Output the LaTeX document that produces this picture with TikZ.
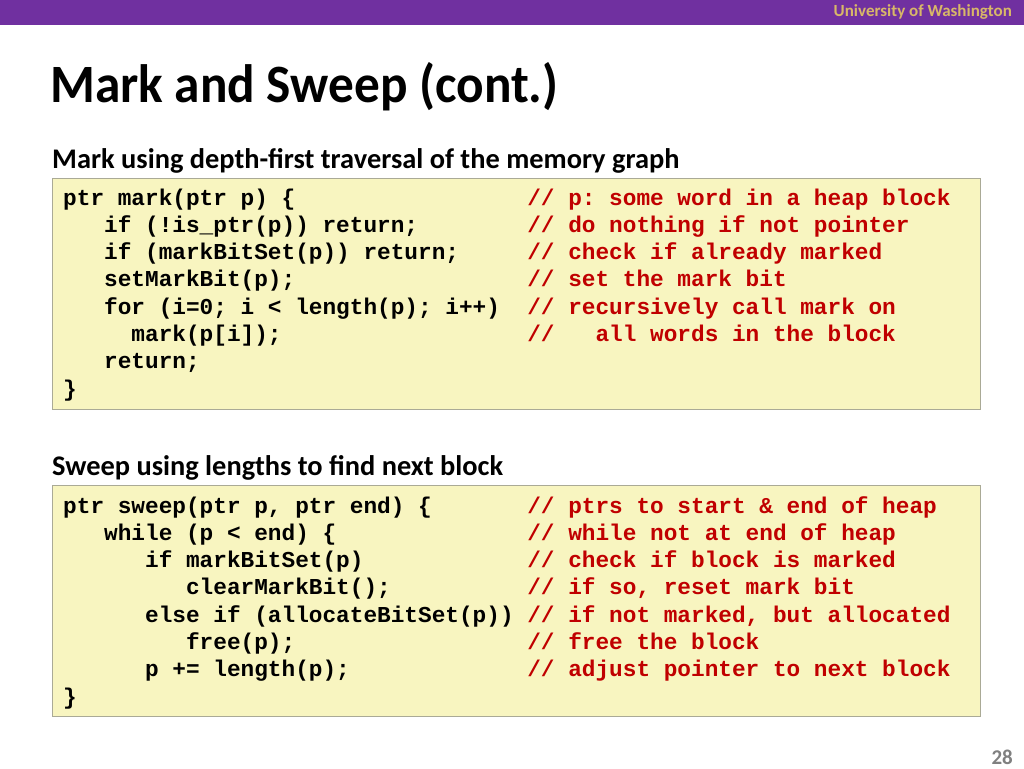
\documentclass[tikz,border=0pt]{standalone}
\usepackage{fontspec}
\setmainfont{Carlito}
\setmonofont{Liberation Mono}
\definecolor{uwpurple}{RGB}{112,48,160}
\definecolor{uwgold}{RGB}{216,183,104}
\definecolor{codefill}{RGB}{248,245,192}
\definecolor{codeedge}{RGB}{170,170,150}
\definecolor{cmtred}{RGB}{192,0,0}
\definecolor{pagegrey}{RGB}{128,128,128}
\tikzset{
  codeline/.style={anchor=base west, inner sep=0pt, font=\fontsize{22.75}{27}\selectfont\ttfamily\bfseries, text=black},
  cmtline/.style={codeline, text=cmtred},
  codebox/.style={draw=codeedge, fill=codefill, line width=1pt},
  heading/.style={anchor=base west, inner sep=0pt, font=\fontsize{28.4}{32}\selectfont\bfseries},
}
\begin{document}
\begin{tikzpicture}[x=1pt,y=-1pt]
\useasboundingbox (0,0) rectangle (1024,768);
\fill[white] (0,0) rectangle (1024,768);
% top bar
\fill[uwpurple] (0,0) rectangle (1024,25);
\node[anchor=base east, inner sep=0pt, text=uwgold, font=\fontsize{17}{20}\selectfont\bfseries] (uw) at (1012,17) {University of Washington};
% title
\node[anchor=base west, inner sep=0pt, xscale=0.95, font=\fontsize{54}{60}\selectfont\bfseries] (title) at (50,102) {Mark and Sweep (cont.)};
% heading 1
\node[heading] (h1) at (52,168) {Mark using depth-first traversal of the memory graph};
\draw[codebox] (52,178) rectangle (980,409);
\def\cx#1{63+#1*13.65}
\def\ly#1{205+#1*27.3}
\node[codeline] (a0) at ({\cx{0}},{\ly{0}}) {ptr mark(ptr p) \{};
\node[codeline] (a1) at ({\cx{3}},{\ly{1}}) {if (!is\_ptr(p)) return;};
\node[codeline] (a2) at ({\cx{3}},{\ly{2}}) {if (markBitSet(p)) return;};
\node[codeline] (a3) at ({\cx{3}},{\ly{3}}) {setMarkBit(p);};
\node[codeline] (a4) at ({\cx{3}},{\ly{4}}) {for (i=0; i < length(p); i++)};
\node[codeline] (a5) at ({\cx{5}},{\ly{5}}) {mark(p[i]);};
\node[codeline] (a6) at ({\cx{3}},{\ly{6}}) {return;};
\node[codeline] (a7) at ({\cx{0}},{\ly{7}}) {\}};
\node[cmtline] (c0) at ({\cx{34}},{\ly{0}}) {// p: some word in a heap block};
\node[cmtline] (c1) at ({\cx{34}},{\ly{1}}) {// do nothing if not pointer};
\node[cmtline] (c2) at ({\cx{34}},{\ly{2}}) {// check if already marked};
\node[cmtline] (c3) at ({\cx{34}},{\ly{3}}) {// set the mark bit};
\node[cmtline] (c4) at ({\cx{34}},{\ly{4}}) {// recursively call mark on};
\node[cmtline] (c5a) at ({\cx{34}},{\ly{5}}) {//};
\node[cmtline] (c5) at ({\cx{39}},{\ly{5}}) {all words in the block};
% heading 2
\node[heading] (h2) at (52,475) {Sweep using lengths to find next block};
\draw[codebox] (52,485) rectangle (980,716);
\def\my#1{513+#1*27.3}
\node[codeline] (b0) at ({\cx{0}},{\my{0}}) {ptr sweep(ptr p, ptr end) \{};
\node[codeline] (b1) at ({\cx{3}},{\my{1}}) {while (p < end) \{};
\node[codeline] (b2) at ({\cx{6}},{\my{2}}) {if markBitSet(p)};
\node[codeline] (b3) at ({\cx{9}},{\my{3}}) {clearMarkBit();};
\node[codeline] (b4) at ({\cx{6}},{\my{4}}) {else if (allocateBitSet(p))};
\node[codeline] (b5) at ({\cx{9}},{\my{5}}) {free(p);};
\node[codeline] (b6) at ({\cx{6}},{\my{6}}) {p += length(p);};
\node[codeline] (b7) at ({\cx{0}},{\my{7}}) {\}};
\node[cmtline] (d0) at ({\cx{34}},{\my{0}}) {// ptrs to start \& end of heap};
\node[cmtline] (d1) at ({\cx{34}},{\my{1}}) {// while not at end of heap};
\node[cmtline] (d2) at ({\cx{34}},{\my{2}}) {// check if block is marked};
\node[cmtline] (d3) at ({\cx{34}},{\my{3}}) {// if so, reset mark bit};
\node[cmtline] (d4) at ({\cx{34}},{\my{4}}) {// if not marked, but allocated};
\node[cmtline] (d5) at ({\cx{34}},{\my{5}}) {// free the block};
\node[cmtline] (d6) at ({\cx{34}},{\my{6}}) {// adjust pointer to next block};
% page number
\node[anchor=base east, inner sep=0pt, text=pagegrey, font=\fontsize{21}{24}\selectfont\bfseries] (pg) at (1013,764) {28};
\end{tikzpicture}
\end{document}
